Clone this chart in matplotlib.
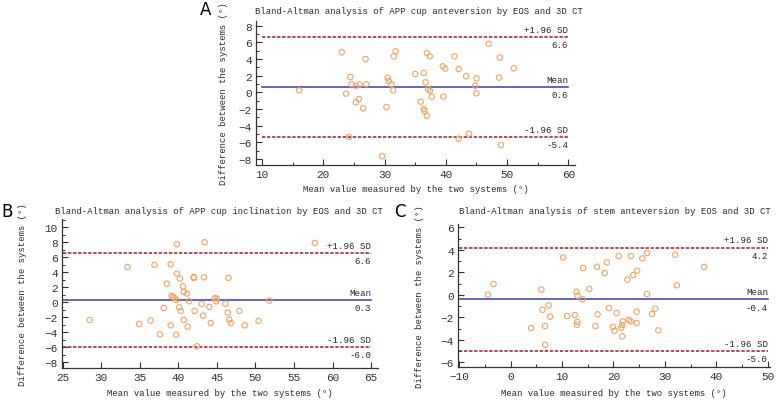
import matplotlib
matplotlib.use("Agg")
import matplotlib.pyplot as plt
from matplotlib.ticker import MultipleLocator

W, H = 777, 402

# panel A: APP cup anteversion
a_mean_x = [16.05, 23.0, 23.7, 24.4, 24.6, 24.2, 25.3, 25.3, 25.8, 25.9, 26.5, 26.9, 27.0,
            29.6, 30.3, 30.5, 30.7, 31.1, 31.4, 31.5, 31.8, 35.0, 35.9, 36.4, 36.4, 36.5,
            36.7, 36.9, 36.9, 37.1, 37.4, 37.4, 37.7, 39.5, 39.6, 39.9, 41.4, 42.1, 42.1,
            43.3, 43.8, 44.8, 45.0, 45.0, 47.0, 48.8, 48.7, 49.0, 51.1]
a_diff = [0.24, 4.8, -0.16, 1.84, 0.96, -5.36, -1.2, 0.8, -0.8, 0.92, -1.92, 4.0, 0.96,
          -7.68, -1.76, 1.76, 1.36, 0.96, 0.24, 4.32, 4.92, 2.2, -1.12, 2.32, -2.0, -2.24,
          1.2, 4.72, -2.8, 0.4, 0.2, 4.32, -0.52, 3.12, -0.52, 2.84, 4.32, 2.8, -5.56,
          1.92, -4.96, 0.8, 1.68, -0.12, 5.84, 4.16, 1.76, -6.32, 2.88]
a_stats = [6.6, 0.6, -5.4]

# panel B: APP cup inclination
b_mean_x = [28.5, 33.4, 34.9, 36.4, 36.9, 37.6, 38.1, 38.5, 39.0, 39.0, 39.1, 39.3, 39.5,
            39.7, 39.8, 39.8, 39.7, 40.1, 40.2, 40.3, 40.6, 40.7, 40.7, 41.1, 41.2, 41.4,
            42.0, 42.0, 42.1, 42.4, 43.0, 43.2, 43.3, 43.4, 44.0, 44.2, 44.7, 44.9, 45.0,
            46.1, 46.4, 46.5, 46.6, 46.8, 47.9, 48.6, 50.4, 51.8, 57.7]
b_diff = [-2.36, 4.71, -2.89, -2.44, 4.98, -4.27, -0.76, 2.49, 5.07, -3.07, 0.84, 0.71, 0.58,
          0.31, 7.73, 3.82, -4.31, -0.67, 3.16, -1.16, 2.13, 1.38, -2.36, 1.16, -3.24, 0.13,
          3.38, 3.24, -1.16, -5.87, -0.22, -1.78, 3.33, 8.0, -0.62, -2.76, 0.53, 0.13, 0.49,
          -0.18, -1.38, 3.24, -2.31, -2.76, -1.16, -3.07, -2.49, 0.22, 7.91]
b_stats = [6.6, 0.3, -6.0]

# panel C: stem anteversion
c_mean_x = [-4.4, -3.3, 4.0, 6.0, 6.2, 6.7, 6.7, 7.4, 7.7, 10.2, 11.0, 12.5, 12.8, 12.9,
            13.0, 13.0, 14.0, 14.1, 15.3, 16.5, 16.8, 16.9, 18.3, 18.7, 19.1, 19.9, 20.2,
            20.6, 21.0, 21.5, 21.7, 21.8, 21.7, 22.7, 23.0, 23.4, 23.4, 23.8, 24.5, 24.5,
            24.6, 25.6, 26.5, 26.5, 27.5, 28.1, 28.7, 32.0, 32.3, 37.6]
c_diff = [0.01, 0.96, -2.95, 0.47, -1.32, -2.77, -4.43, -0.93, -1.94, 3.33, -1.88, -1.79,
          0.28, -2.65, -2.39, -0.07, -0.4, 2.39, 0.53, -2.77, 2.5, -1.73, 1.94, 2.89, -1.17,
          -2.83, -3.19, -1.61, 3.45, -2.92, -2.68, -2.36, -3.69, 1.35, -2.24, -2.36, 3.45,
          1.76, -1.5, -2.5, 2.15, 3.24, 3.72, 0.08, -1.7, -1.23, -3.16, 3.57, 0.85, 2.48]
c_stats = [4.2, -0.4, -5.0]

stat_labels = ["+1.96 SD", "Mean", "-1.96 SD"]
titles = ["Bland-Altman analysis of APP cup anteversion by EOS and 3D CT",
          "Bland-Altman analysis of APP cup inclination by EOS and 3D CT",
          "Bland-Altman analysis of stem anteversion by EOS and 3D CT"]
xlabel = "Mean value measured by the two systems (\u00b0)"
ylabel = "Difference between the systems (\u00b0)"

plt.rcParams['font.family'] = ['Liberation Mono', 'DejaVu Sans Mono']
TXT = '#2a2a2a'
FS = 6.4

fig = plt.figure(figsize=(W / 100, H / 100), dpi=100)


def panel(box, xs, ys, stats, title, letter, xlim, ylim, xminor, xticks, yticks,
          title_px, letter_px, ylab_x, xlab_y):
    l, t, r, b = box
    ax = fig.add_axes([l / W, 1 - b / H, (r - l) / W, (b - t) / H])
    ax.scatter(xs, ys, s=15, facecolors='none', edgecolors='#f2a262', linewidths=0.8, zorder=3)
    x0, x1 = xticks[0], xticks[-1]
    ax.plot([x0, x1], [stats[0], stats[0]], color='#9b1c24', lw=1.1, ls=(0, (2.2, 1.1)))
    ax.plot([x0, x1], [stats[1], stats[1]], color='#3c3cb0', lw=1.1)
    ax.plot([x0, x1], [stats[2], stats[2]], color='#9b1c24', lw=1.1, ls=(0, (2.2, 1.1)))
    for lab, v in zip(stat_labels, stats):
        ax.annotate(lab, (x1, v), xytext=(0, 5.5), textcoords='offset points',
                    ha='right', va='center', fontsize=6.6, color=TXT)
        ax.annotate("%.1f" % v, (x1, v), xytext=(0, -5.5), textcoords='offset points',
                    ha='right', va='center', fontsize=6.6, color=TXT)
    ax.set_xlim(*xlim)
    ax.set_ylim(*ylim)
    ax.set_xticks(xticks)
    ax.set_yticks(yticks)
    if xminor:
        ax.xaxis.set_minor_locator(MultipleLocator(xminor))
    ax.yaxis.set_minor_locator(MultipleLocator(1))
    for s in ['top', 'right']:
        ax.spines[s].set_visible(False)
    for s in ['left', 'bottom']:
        ax.spines[s].set_linewidth(0.9)
        ax.spines[s].set_color('#333333')
    ax.tick_params(which='major', direction='in', length=4, width=0.8, labelsize=8,
                   colors='#333333', pad=3)
    ax.tick_params(which='minor', direction='in', length=2.2, width=0.7, colors='#333333')
    ax.set_xlabel(xlabel, fontsize=FS, color=TXT, va='center')
    ax.set_ylabel(ylabel, fontsize=FS, color=TXT, va='center')
    ax.yaxis.set_label_coords((ylab_x - l) / (r - l), 0.5)
    ax.xaxis.set_label_coords(0.5, -(xlab_y - b) / (b - t))
    fig.text(title_px[0] / W, 1 - title_px[1] / H, title, fontsize=FS, ha='left',
             va='center', color=TXT)
    fig.text(letter_px[0] / W, 1 - letter_px[1] / H, letter, fontsize=12, ha='left',
             va='center', family='DejaVu Sans')
    return ax


panel((256, 22, 575, 166), a_mean_x, a_diff, a_stats, titles[0], "A", (9.0, 61.1),
      (-8.72, 8.56), 5, [10, 20, 30, 40, 50, 60], [-8, -6, -4, -2, 0, 2, 4, 6, 8],
      (255, 11), (200, 10), 223, 190)
panel((62, 220, 378, 369), b_mean_x, b_diff, b_stats, titles[1], "B", (24.9, 65.9),
      (-8.76, 11.1), None, [25, 30, 35, 40, 45, 50, 55, 60, 65],
      [-8, -6, -4, -2, 0, 2, 4, 6, 8, 10], (55, 212), (1, 212), 23, 394)
panel((458, 225, 770, 368), c_mean_x, c_diff, c_stats, titles[2], "C", (-10.2, 50.4),
      (-6.41, 6.3), 5, [-10, 0, 10, 20, 30, 40, 50], [-6, -4, -2, 0, 2, 4, 6],
      (459, 212), (394, 212), 420, 394)

fig.savefig("out.png", dpi=100)
